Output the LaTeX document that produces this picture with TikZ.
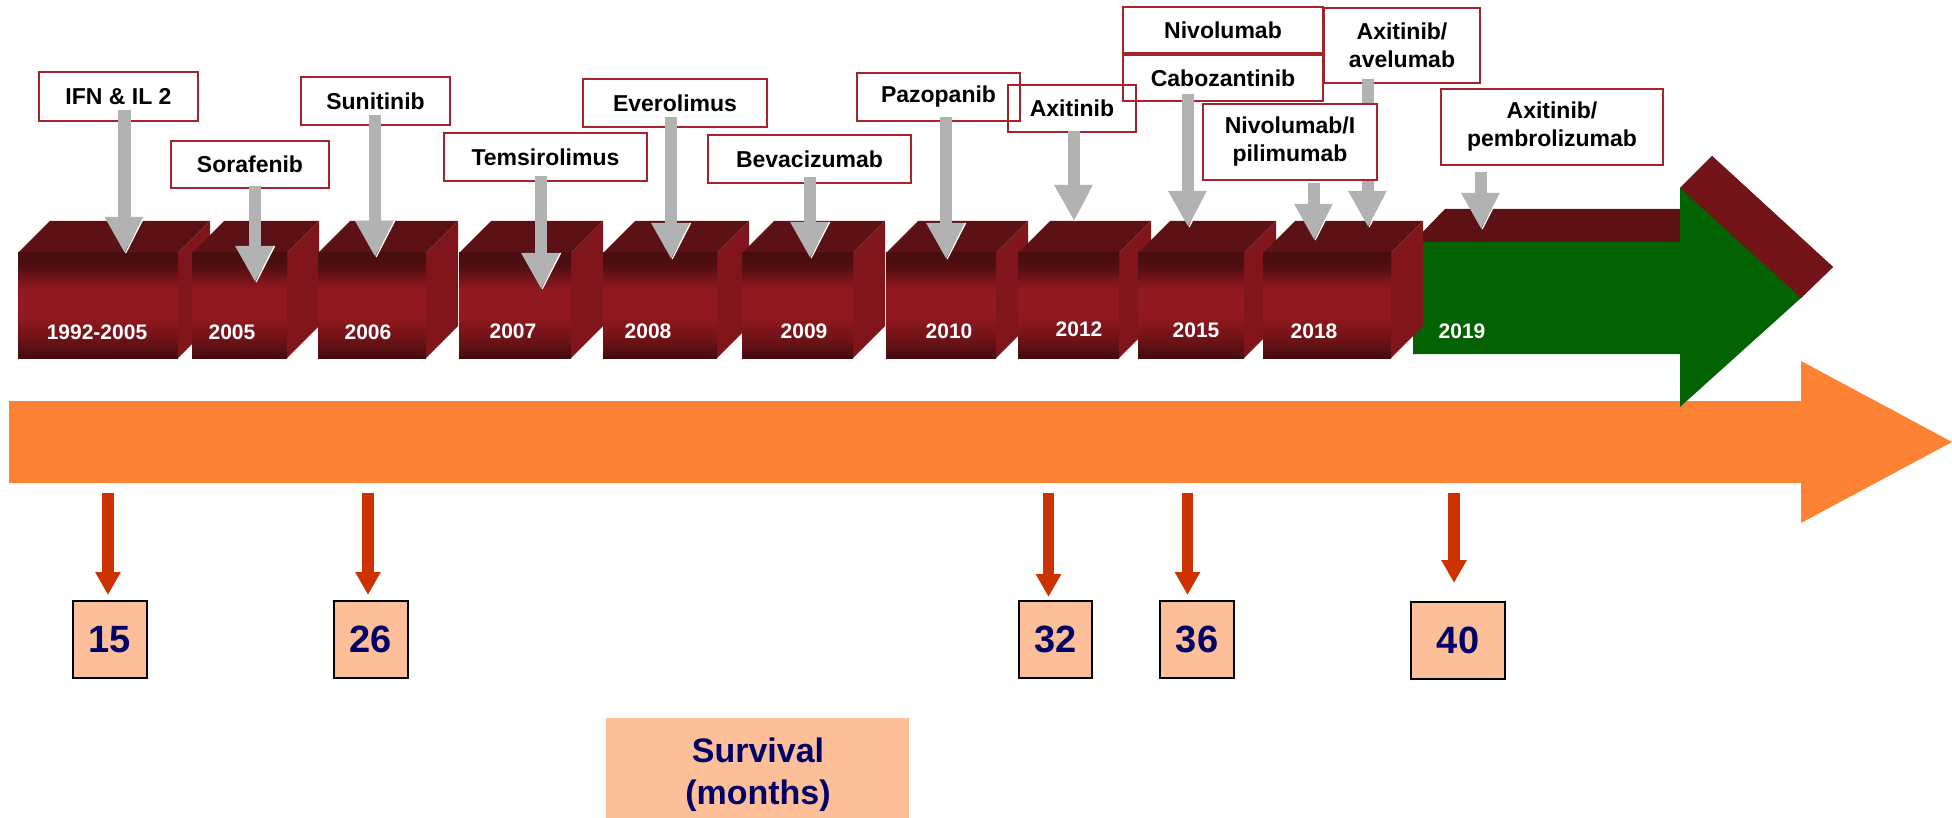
\documentclass[tikz,border=0pt]{standalone}
\usepackage{fontspec}
\setmainfont{Liberation Sans}
\usetikzlibrary{arrows.meta}
\definecolor{boxred}{RGB}{165,35,42}
\definecolor{arrgray}{RGB}{178,178,178}
\definecolor{orng}{RGB}{253,130,52}
\definecolor{redarr}{RGB}{204,51,0}
\definecolor{peach}{RGB}{253,191,153}
\definecolor{navy}{RGB}{0,0,102}
\definecolor{ctop}{RGB}{92,17,20}
\definecolor{cside}{RGB}{128,22,27}
\definecolor{headtop}{RGB}{114,20,24}
\definecolor{grn}{RGB}{3,99,3}
\definecolor{cfA}{RGB}{66,12,14}
\definecolor{cfB}{RGB}{105,18,22}
\definecolor{cfC}{RGB}{146,25,31}
\definecolor{cfD}{RGB}{80,14,17}
\definecolor{cfE}{RGB}{72,13,16}
\pgfdeclareverticalshading{cubefront}{100bp}{color(0bp)=(cfA); color(25bp)=(cfA); color(32.5bp)=(cfB); color(45bp)=(cfC); color(57.5bp)=(cfC); color(69bp)=(cfD); color(75bp)=(cfE); color(100bp)=(cfE)}
\newcommand{\rcube}[2]{%
  \fill[ctop] (#1,253) -- ({#1+32},221) -- ({#2+32},221) -- (#2,253) -- cycle;
  \fill[cside] (#2,253) -- ({#2+32},221) -- ({#2+32},326) -- (#2,358) -- cycle;
  \shade[shading=cubefront] (#1,253) rectangle (#2,358);
}
\tikzset{
  lbl/.style={draw=boxred, line width=2.2pt, align=center, inner sep=0pt,
    font=\bfseries\fontsize{23}{28}\selectfont},
  yearlbl/.style={text=white, inner sep=0pt, font=\bfseries\fontsize{21}{24}\selectfont},
  numbox/.style={draw=black, line width=2pt, fill=peach, inner sep=0pt, minimum height=77pt,
    text=navy, font=\bfseries\fontsize{38}{40}\selectfont},
  grayarrow/.style={draw=arrgray, line width=12.5pt, -{Triangle[width=37pt,length=36pt]}},
  glint/.style={draw=white, line width=1.3pt},
  redarrow/.style={draw=redarr, line width=11.5pt, -{Triangle[width=24pt,length=23pt]}},
}
\begin{document}
\begin{tikzpicture}[x=1pt,y=-1pt]
\useasboundingbox (0,0) rectangle (1952,818);
% orange survival arrow
\fill[orng] (9,401) -- (1801,401) -- (1801,361) -- (1952,442) -- (1801,523) -- (1801,483) -- (9,483) -- cycle;
% green arrow with 3D top
\fill[ctop] (1413,242) -- (1445,209) -- (1680,209) -- (1680,188) -- (1712,156) -- (1833,267) -- (1801,298) -- cycle;
\fill[headtop] (1680,188) -- (1712,156) -- (1833,267) -- (1801,298) -- cycle;
\fill[grn] (1413,242) -- (1680,242) -- (1680,188) -- (1801,298) -- (1680,407) -- (1680,354) -- (1413,354) -- cycle;
% cubes
\rcube{18}{178}
\rcube{192}{287}
\rcube{318}{426}
\rcube{459}{571}
\rcube{603}{717}
\rcube{742}{853}
\rcube{886}{996}
\rcube{1018}{1119}
\rcube{1138}{1244}
\rcube{1263}{1391}
% year labels
\node[yearlbl] (y1) at (97,332) {1992-2005};
\node[yearlbl] (y2) at (232,332) {2005};
\node[yearlbl] (y3) at (368,332) {2006};
\node[yearlbl] (y4) at (513,331) {2007};
\node[yearlbl] (y5) at (648,331) {2008};
\node[yearlbl] (y6) at (804,331) {2009};
\node[yearlbl] (y7) at (949,331) {2010};
\node[yearlbl] (y8) at (1079,329) {2012};
\node[yearlbl] (y9) at (1196,330) {2015};
\node[yearlbl] (y10) at (1314,331) {2018};
\node[yearlbl] (y11) at (1462,331) {2019};
% drug boxes
\node[lbl, minimum width=159pt, minimum height=49pt] (ifn) at (118.5,96.5) {IFN \& IL 2};
\node[lbl, minimum width=158pt, minimum height=47pt] (sor) at (250,164.5) {Sorafenib};
\node[lbl, minimum width=149pt, minimum height=48pt] (sun) at (375.5,101) {Sunitinib};
\node[lbl, minimum width=203pt, minimum height=48pt] (tem) at (545.5,157) {Temsirolimus};
\node[lbl, minimum width=184pt, minimum height=48pt] (eve) at (675,103) {Everolimus};
\node[lbl, minimum width=203pt, minimum height=48pt] (bev) at (809.5,159) {Bevacizumab};
\node[lbl, minimum width=163pt, minimum height=48pt] (paz) at (938.5,97) {Pazopanib};
\node[lbl, minimum width=128pt, minimum height=47pt] (axi) at (1072,108.5) {Axitinib};
\node[lbl, minimum width=200pt, minimum height=46pt] (niv) at (1223,30) {Nivolumab};
\node[lbl, minimum width=200pt, minimum height=46pt] (cab) at (1223,78) {Cabozantinib};
\node[lbl, minimum width=156pt, minimum height=75pt] (ave) at (1402,45.5) {Axitinib/\\avelumab};
\node[lbl, minimum width=222pt, minimum height=76pt] (pem) at (1552,127) {Axitinib/\\pembrolizumab};
% gray arrows
\coordinate (g1s) at (124.5,110);  \coordinate (g1e) at (124.5,253);
\coordinate (g2s) at (255,186);    \coordinate (g2e) at (255,282);
\coordinate (g3s) at (375,115);    \coordinate (g3e) at (375,257);
\coordinate (g4s) at (541,176);    \coordinate (g4e) at (541,289);
\coordinate (g5s) at (671,117);    \coordinate (g5e) at (671,259);
\coordinate (g6s) at (810,177);    \coordinate (g6e) at (810,258);
\coordinate (g7s) at (946,117);    \coordinate (g7e) at (946,259);
\coordinate (g8s) at (1074,131);   \coordinate (g8e) at (1074,221);
\coordinate (g9s) at (1188,94);    \coordinate (g9e) at (1188,227);
\coordinate (g10s) at (1314,183);  \coordinate (g10e) at (1314,240);
\coordinate (g11s) at (1368,79);   \coordinate (g11e) at (1368,227);
\coordinate (g12s) at (1481,172);  \coordinate (g12e) at (1481,229);
\foreach \i in {1,...,12} {
  \draw[grayarrow] (g\i s) -- (g\i e);
  \draw[glint] ([shift={(19.6,-36)}]g\i e) -- ([shift={(1.1,0)}]g\i e);
}
\node[lbl, fill=white, minimum width=174pt, minimum height=76pt] (nip) at (1290,142) {Nivolumab/I\\pilimumab};
% survival numbers
\node[numbox, minimum width=74pt] (n15) at (110,639.5) {15};
\node[numbox, minimum width=74pt] (n26) at (371,639.5) {26};
\node[numbox, minimum width=73pt] (n32) at (1055.5,639.5) {32};
\node[numbox, minimum width=74pt] (n36) at (1197,639.5) {36};
\node[numbox, minimum width=94pt] (n40) at (1458,640.5) {40};
\coordinate (r1s) at (108,493);    \coordinate (r1e) at (108,595);
\coordinate (r2s) at (368,493);    \coordinate (r2e) at (368,595);
\coordinate (r3s) at (1048.5,493); \coordinate (r3e) at (1048.5,597);
\coordinate (r4s) at (1187.5,493); \coordinate (r4e) at (1187.5,595);
\coordinate (r5s) at (1454,493);   \coordinate (r5e) at (1454,583);
\foreach \i in {1,...,5} { \draw[redarrow] (r\i s) -- (r\i e); }
% survival label
\node[fill=peach, minimum width=303pt, minimum height=100pt, inner sep=0pt, anchor=north] (surv) at (757.5,718) {};
\node[text=navy, align=center, font=\bfseries\fontsize{34}{42}\selectfont] (survt) at (758,775) {Survival\\(months)};
\end{tikzpicture}
\end{document}
